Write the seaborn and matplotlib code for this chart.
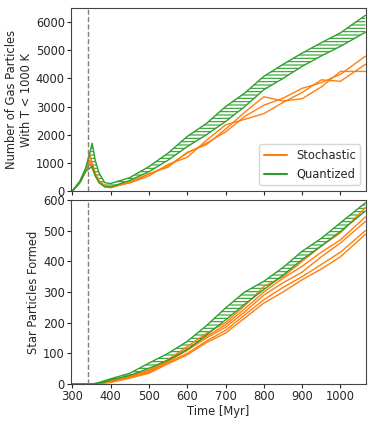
import numpy as np
import pandas as pd
import seaborn as sns
import matplotlib
matplotlib.use('Agg')
import matplotlib.pyplot as plt

# time grid [Myr]
t = [300, 320, 335, 345, 352, 360, 370, 385, 400, 450, 500, 550, 600, 650,
     700, 750, 800, 850, 900, 950, 1000, 1065]

# top panel: gas particles with T < 1000 K
gas_q_low = [0, 300, 700, 800, 900, 550, 300, 150, 150, 380, 690, 1100, 1580,
             2000, 2470, 3000, 3600, 4000, 4430, 4800, 5140, 5640]
gas_q_high = [0, 360, 820, 1300, 1700, 1100, 650, 300, 270, 480, 870, 1350, 1940,
              2400, 3000, 3480, 4075, 4500, 4900, 5270, 5620, 6240]

gas_s_runs = [
    [0, 320, 740, 1100, 900, 600, 350, 180, 130, 330, 600, 900, 1350,
     1700, 2100, 2650, 3050, 3300, 3650, 3850, 4150, 4790],
    [0, 300, 720, 1350, 1000, 650, 380, 200, 150, 290, 540, 950, 1200,
     1800, 2350, 2550, 2750, 3150, 3500, 3950, 3900, 4500],
    [0, 310, 700, 1000, 800, 550, 320, 160, 120, 310, 620, 850, 1380,
     1650, 2200, 2800, 3350, 3200, 3280, 3700, 4250, 4250],
]

# bottom panel: star particles formed
star_q_low = [0, 0, 0, 0, 0, 1, 3, 7, 13, 28, 51, 78, 111, 160, 209, 260,
              308, 355, 406, 450, 498, 564]
star_q_high = [0, 0, 0, 0, 0, 2, 5, 11, 17, 35, 68, 100, 139, 190, 248, 300,
               335, 380, 433, 475, 526, 591]

star_s_runs = [
    [0, 0, 0, 0, 0, 1, 3, 7, 12, 27, 45, 80, 122, 165, 200, 255, 318, 350,
     400, 450, 493, 575],
    [0, 0, 0, 0, 0, 1, 2, 6, 10, 25, 42, 76, 115, 155, 193, 245, 300, 345,
     384, 430, 470, 545],
    [0, 0, 0, 0, 0, 1, 2, 5, 8, 23, 40, 73, 110, 150, 185, 235, 290, 330,
     365, 415, 460, 530],
    [0, 0, 0, 0, 0, 0, 1, 4, 7, 21, 38, 70, 100, 140, 175, 225, 275, 315,
     350, 390, 430, 500],
    [0, 0, 0, 0, 0, 0, 1, 3, 5, 19, 35, 66, 95, 135, 166, 215, 264, 300,
     340, 375, 415, 488],
]

t_start = 340
orange = '#ff7f0e'
green = '#2ca02c'

sns.set_style('ticks')
plt.rcParams['font.family'] = ['DejaVu Sans']
plt.rcParams['font.size'] = 8.3
plt.rcParams['hatch.linewidth'] = 0.8
plt.rcParams['xtick.major.pad'] = 1.5
plt.rcParams['ytick.major.pad'] = 1.5
plt.rcParams['xtick.major.size'] = 3
plt.rcParams['ytick.major.size'] = 3

fig = plt.figure(figsize=(3.74, 4.22), dpi=100)
ax1 = fig.add_axes([0.19, 0.547, 0.789, 0.434])
ax2 = fig.add_axes([0.19, 0.090, 0.789, 0.436])


def draw_quantized(ax, low, high):
    ax.fill_between(t, low, high, facecolor='none', edgecolor=green,
                    hatch='-----', linewidth=0)
    for y in (low, high):
        sns.lineplot(x=t, y=y, color=green, lw=1.0, ax=ax)


# top panel
for run in gas_s_runs:
    sns.lineplot(x=t, y=run, color=orange, lw=1.0, ax=ax1)
draw_quantized(ax1, gas_q_low, gas_q_high)
ax1.plot([], [], color=orange, lw=1.5, label='Stochastic')
ax1.plot([], [], color=green, lw=1.5, label='Quantized')
ax1.axvline(t_start, color='gray', ls='--', lw=1)
ax1.set_xlim(297, 1067)
ax1.set_ylim(0, 6500)
ax1.set_yticks(range(0, 6001, 1000))
ax1.set_xticklabels([])
ax1.set_ylabel('Number of Gas Particles\nWith T < 1000 K', labelpad=2)
ax1.legend(loc='lower right', handlelength=2.0)

# bottom panel
for run in star_s_runs:
    sns.lineplot(x=t, y=run, color=orange, lw=1.0, ax=ax2)
draw_quantized(ax2, star_q_low, star_q_high)
ax2.axvline(t_start, color='gray', ls='--', lw=1)
ax2.set_xlim(297, 1067)
ax2.set_ylim(0, 600)
ax2.set_yticks(range(0, 601, 100))
ax2.set_xlabel('Time [Myr]', labelpad=1)
ax2.set_ylabel('Star Particles Formed', labelpad=2)

for ax in (ax1, ax2):
    ax.set_xticks([300, 400, 500, 600, 700, 800, 900, 1000])
    for s in ax.spines.values():
        s.set_color('#444444')

fig.savefig('out.png', dpi=100)
